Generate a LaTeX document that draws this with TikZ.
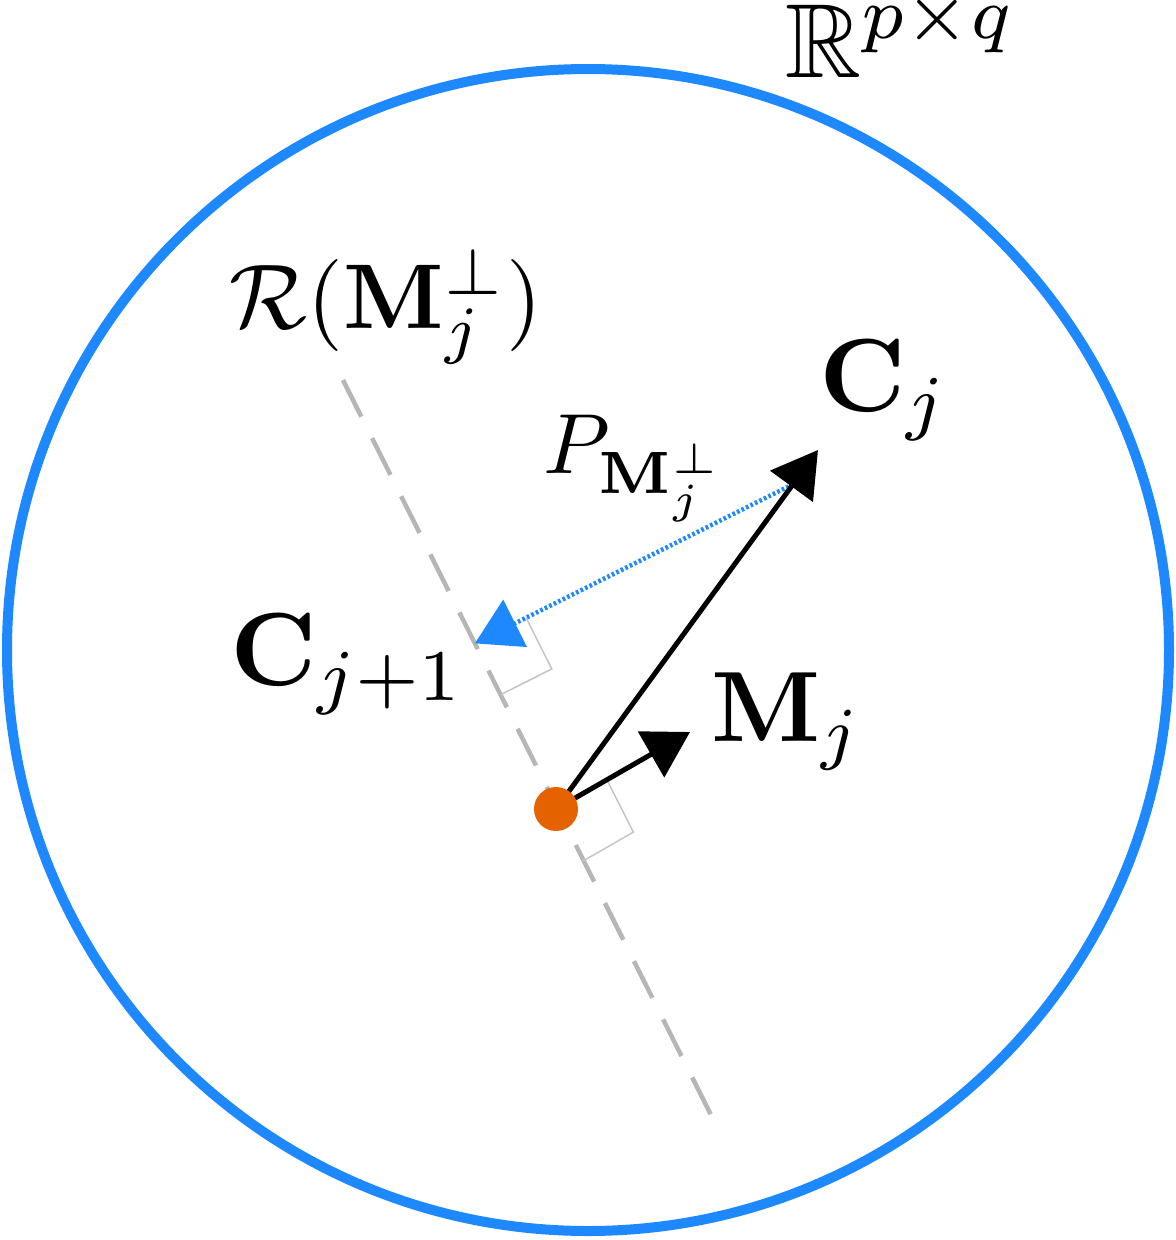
\documentclass[tikz,border=0pt]{standalone}
\usepackage{amssymb}
\usepackage{xcolor}
\usetikzlibrary{arrows.meta,calc}

\definecolor{ringblue}{RGB}{30,136,255}
\definecolor{dotorange}{RGB}{228,99,0}
\definecolor{rangegray}{RGB}{182,182,182}
\definecolor{markgray}{RGB}{196,196,196}

\tikzset{
  lbl/.style={inner sep=0pt, anchor=base west, scale=7.8},
  vecarrow/.style={line width=3.75pt, -{Triangle[length=33.75pt,width=39pt]}},
  rmark/.style={markgray, line width=1.1pt},
}

\begin{document}
\begin{tikzpicture}[x=0.75pt,y=0.75pt,yscale=-1,xscale=1]
\useasboundingbox (0,0) rectangle (1176,1240);

%Shape: Circle
\draw [ringblue, line width=7.5pt] (588,650) circle [radius=435.75pt];

\coordinate (o) at (556,809);
\coordinate (ra) at (343,380);
\coordinate (rb) at (711,1115);
\coordinate (cj) at (818,450);
\coordinate (mj) at (690,732);
\coordinate (pstart) at ($(o)!0.905!(cj)$);
\coordinate (foot) at ($(ra)!(pstart)!(rb)$);

%Straight Lines: range of M_j perp
\draw [rangegray, line width=3.4pt, dash pattern=on 30.75pt off 18pt] (ra) -- (rb);

%Right angles
\coordinate (fa) at ($(foot)!43pt!(pstart)$);
\coordinate (fb) at ($(foot)!43pt!(rb)$);
\draw [rmark] (fa) -- ($(fa)+(fb)-(foot)$) -- (fb);
\coordinate (oa) at ($(o)!44pt!(mj)$);
\coordinate (ob) at ($(o)!44pt!(rb)$);
\draw [rmark] (oa) -- ($(oa)+(ob)-(o)$) -- (ob);

%Straight Lines: projection
\draw [ringblue, line width=3.4pt, dash pattern=on 2pt off 1.75pt, -{Triangle[length=33.75pt,width=39pt]}] (pstart) -- (foot);

%Straight Lines: vectors
\draw [vecarrow] (o) -- (cj);
\draw [vecarrow] (o) -- (mj);

%Shape: Circle
\fill [dotorange] (o) circle [radius=16.5pt];

% Text Node
\node [lbl, scale=7.9/7.8] (space) at (783,77) {$\mathbb{R}^{p\times q}$};
% Text Node
\node [lbl, scale=6.9/7.8] (rangelbl) at (228,328) {$\mathcal{R}(\mathbf{M}_j^{\perp})$};
% Text Node
\node [lbl] (cjlbl) at (817,411) {$\mathbf{C}_j$};
% Text Node
\node [lbl, scale=6.4/7.8] (projlbl) at (542,473) {$P_{\mathbf{M}_j^{\perp}}$};
% Text Node
\node [lbl] (cnextlbl) at (228,685) {$\mathbf{C}_{j+1}$};
% Text Node
\node [lbl, scale=7.5/7.8] (mjlbl) at (709,741) {$\mathbf{M}_j$};

\end{tikzpicture}
\end{document}
